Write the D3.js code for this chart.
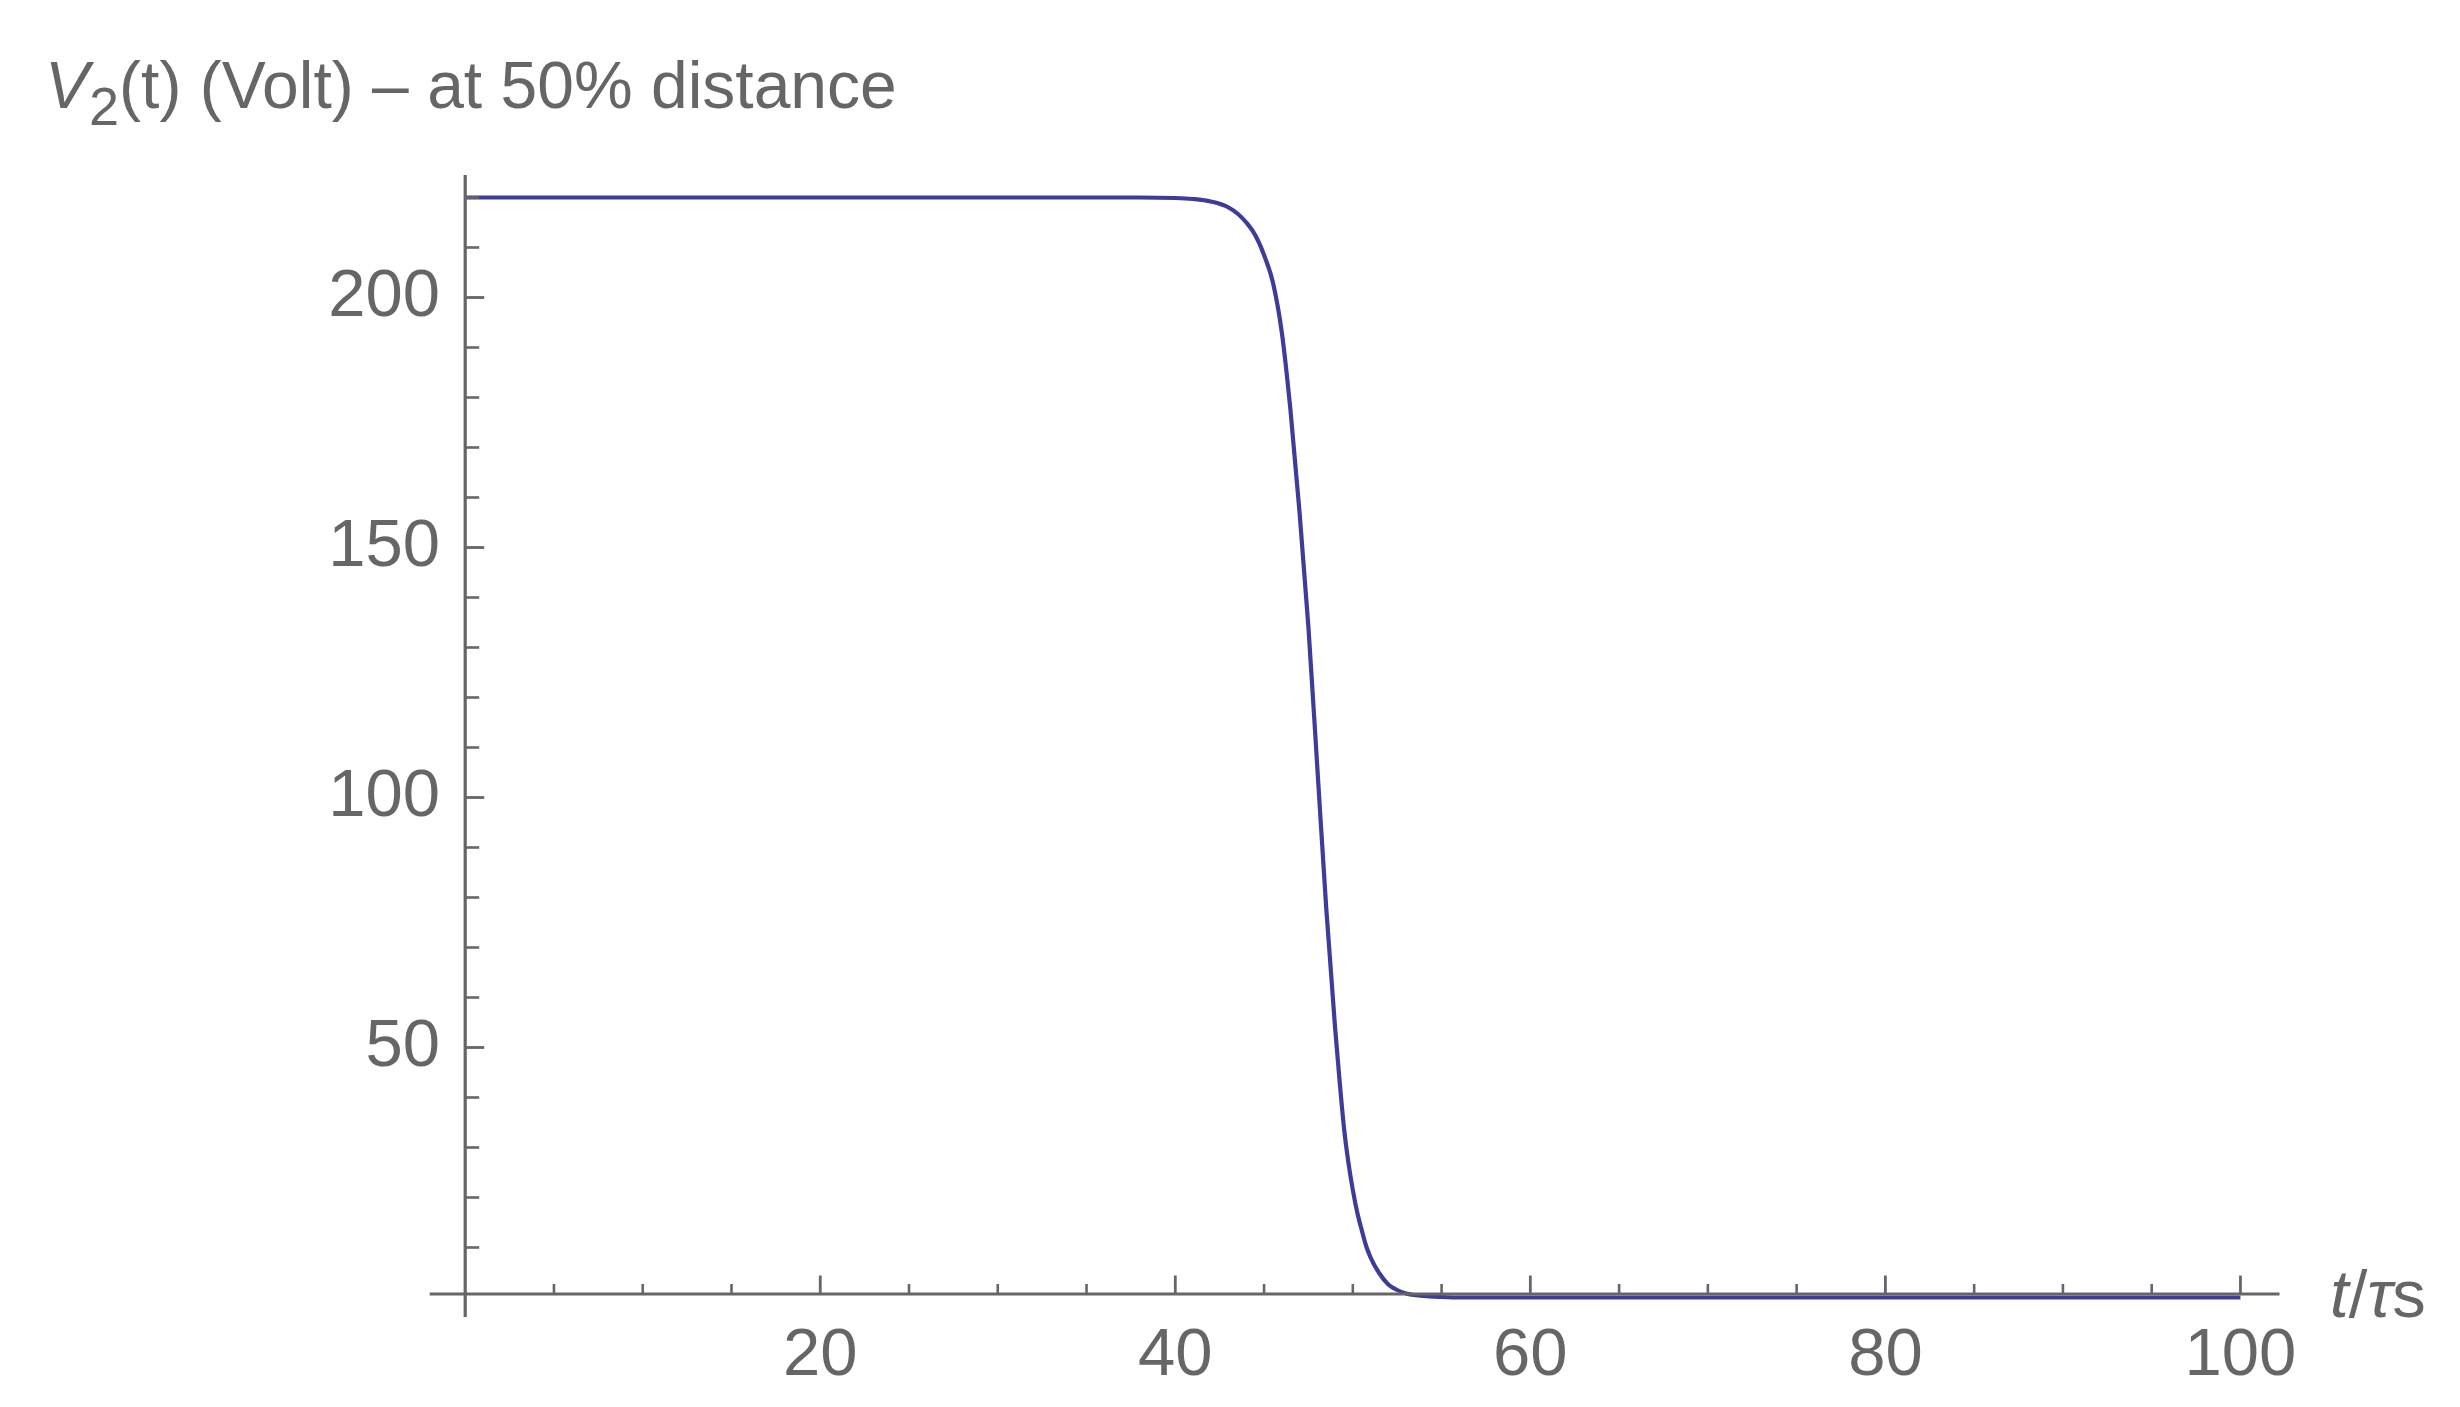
<!DOCTYPE html>
<html>
<head>
<meta charset="utf-8">
<script src="https://cdn.jsdelivr.net/npm/d3@7"></script>
<style>
  html, body { margin: 0; padding: 0; background: #ffffff; }
  svg { display: block; }
  text { font-family: "Liberation Sans", Arial, sans-serif; fill: #666666; }
</style>
</head>
<body>
<svg id="chart" width="2460" height="1407"></svg>
<script>
// ---- data ----
const tValues = [0, 10, 20, 30, 38, 40, 41, 42, 43, 43.5, 44, 44.5, 45, 45.5, 46, 46.5, 47, 47.5, 48, 48.5, 49, 49.25, 49.5, 49.75, 50, 50.25, 50.5, 50.75, 51, 51.5, 52, 52.5, 53, 54, 55, 56, 60, 80, 100];
const vValues = [220, 220, 220, 220, 220, 219.9, 219.7, 219.2, 218, 216.8, 215, 212.5, 208.5, 203, 193, 177, 157, 134, 106, 78, 54, 43.5, 34, 27, 21.5, 17, 13.5, 10.3, 8, 4.8, 2.6, 1.5, 0.8, 0.3, 0.1, 0, 0, 0, 0];
const xMajorTicks = [20, 40, 60, 80, 100];
const xMinorTicks = [5, 10, 15, 25, 30, 35, 45, 50, 55, 65, 70, 75, 85, 90, 95];
const yMajorTicks = [50, 100, 150, 200];
const yMinorTicks = [10, 20, 30, 40, 60, 70, 80, 90, 110, 120, 130, 140, 160, 170, 180, 190, 210, 220];
const titleMain = "V";
const titleSub = "2";
const titleRest = "(t) (Volt) \u2013 at 50% distance";

// ---- layout ----
const svg = d3.select("#chart");
const axisColor = "#666666";
const lineColor = "#3d3d99";

const x = d3.scaleLinear().domain([-2, 102.2]).range([429.7, 2279.5]);
const y = d3.scaleLinear().domain([-3.9, 224.5]).range([1317, 175]);
const xAxisY = y(0) - 3.5;   // axis line sits slightly above the zero level
const yAxisX = x(0);

// ---- curve (drawn below the axes) ----
const data = tValues.map((t, i) => ({ t, v: vValues[i] }));
const line = d3.line().x(d => x(d.t)).y(d => y(d.v)).curve(d3.curveMonotoneX);
svg.append("path")
  .datum(data)
  .attr("d", line)
  .attr("fill", "none")
  .attr("stroke", lineColor)
  .attr("stroke-width", 4.2)
  .attr("stroke-linejoin", "round");

// ---- x axis ----
const gx = svg.append("g");
gx.append("line")
  .attr("x1", x(-2)).attr("x2", x(102.2))
  .attr("y1", xAxisY).attr("y2", xAxisY)
  .attr("stroke", axisColor).attr("stroke-width", 3.2);
gx.selectAll("line.minor").data(xMinorTicks).join("line")
  .attr("class", "minor")
  .attr("x1", d => x(d)).attr("x2", d => x(d))
  .attr("y1", xAxisY).attr("y2", xAxisY - 10)
  .attr("stroke", axisColor).attr("stroke-width", 2.6);
gx.selectAll("line.major").data(xMajorTicks).join("line")
  .attr("class", "major")
  .attr("x1", d => x(d)).attr("x2", d => x(d))
  .attr("y1", xAxisY).attr("y2", xAxisY - 18.5)
  .attr("stroke", axisColor).attr("stroke-width", 2.8);
gx.selectAll("text.tick").data(xMajorTicks).join("text")
  .attr("class", "tick")
  .attr("x", d => x(d))
  .attr("y", 1375)
  .attr("text-anchor", "middle")
  .attr("font-size", 67)
  .text(d => d);

// ---- y axis ----
const gy = svg.append("g");
gy.append("line")
  .attr("x1", yAxisX).attr("x2", yAxisX)
  .attr("y1", y(-3.9)).attr("y2", y(224.5))
  .attr("stroke", axisColor).attr("stroke-width", 3.2);
gy.selectAll("line.minor").data(yMinorTicks).join("line")
  .attr("class", "minor")
  .attr("x1", yAxisX).attr("x2", yAxisX + 14)
  .attr("y1", d => y(d)).attr("y2", d => y(d))
  .attr("stroke", axisColor).attr("stroke-width", 2.6);
gy.selectAll("line.major").data(yMajorTicks).join("line")
  .attr("class", "major")
  .attr("x1", yAxisX).attr("x2", yAxisX + 19)
  .attr("y1", d => y(d)).attr("y2", d => y(d))
  .attr("stroke", axisColor).attr("stroke-width", 2.8);
gy.selectAll("text.tick").data(yMajorTicks).join("text")
  .attr("class", "tick")
  .attr("x", 440)
  .attr("y", d => y(d) + 18)
  .attr("text-anchor", "end")
  .attr("font-size", 67)
  .text(d => d);

// ---- axis label ----
const xl = svg.append("text")
  .attr("x", 2330).attr("y", 1317)
  .attr("font-size", 67);
xl.append("tspan").attr("font-style", "italic").text("t");
xl.append("tspan").text("/");
xl.append("tspan").attr("font-style", "italic").text("\u03c4");
xl.append("tspan").text("s");

// ---- title ----
const title = svg.append("text")
  .attr("x", 45).attr("y", 108)
  .attr("font-size", 66);
title.append("tspan").attr("font-style", "italic").text(titleMain);
title.append("tspan").attr("font-size", 54).attr("dy", 17).text(titleSub);
title.append("tspan").attr("dy", -17).text(titleRest);
</script>
</body>
</html>
